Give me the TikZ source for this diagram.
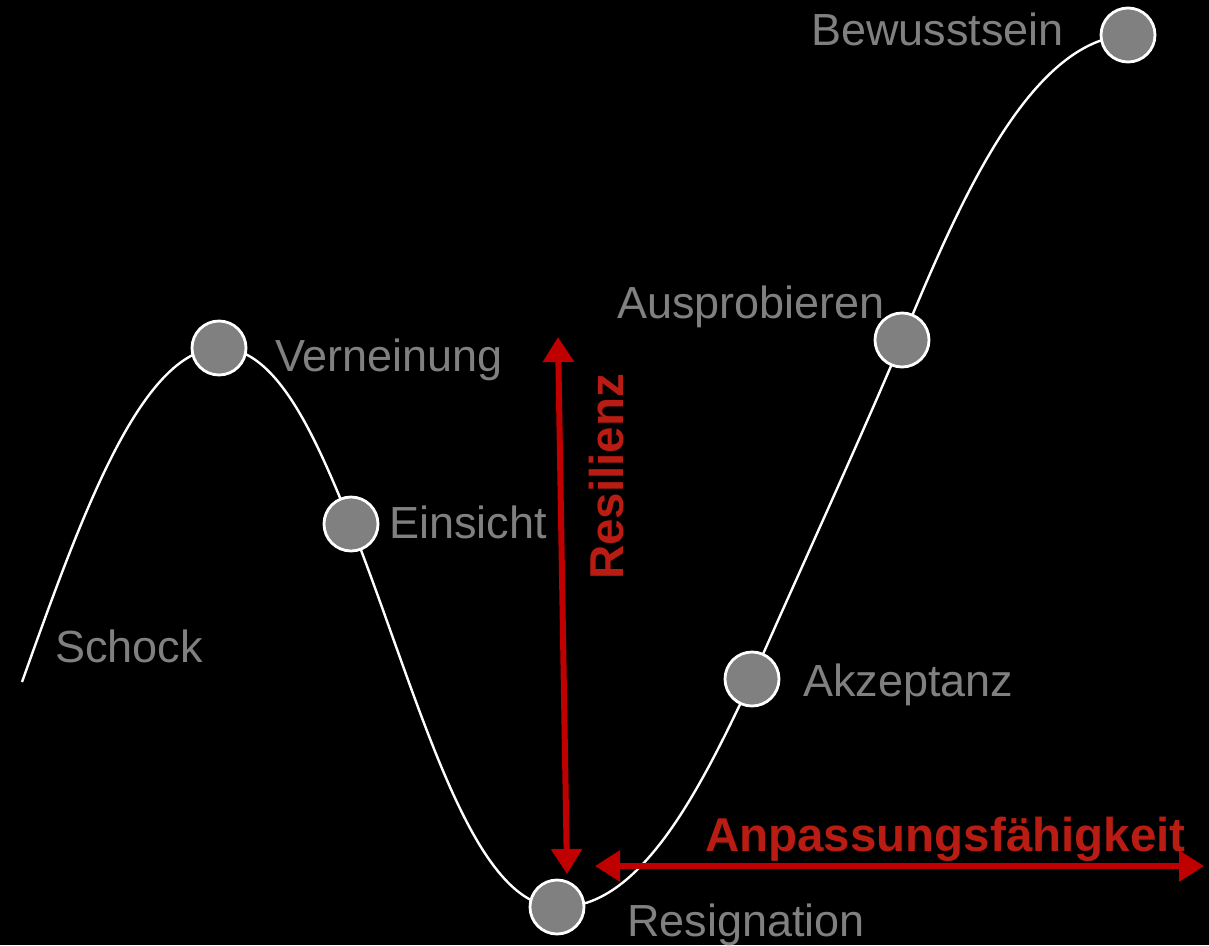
\documentclass[tikz,border=0pt]{standalone}
\usepackage{fontspec}
\setmainfont{Liberation Sans}
\usetikzlibrary{arrows.meta}
\definecolor{lblgray}{HTML}{808080}
\definecolor{arrred}{HTML}{C00000}
\definecolor{txtred}{HTML}{B81C12}
\tikzset{
  stage/.style={circle, draw=white, line width=2.8pt, fill=lblgray, minimum size=54pt, inner sep=0pt},
  lbl/.style={anchor=base west, text=lblgray, font=\fontsize{45}{50}\selectfont, inner sep=0pt},
  redlbl/.style={anchor=base west, text=txtred, font=\fontsize{47.5}{52}\selectfont\bfseries, inner sep=0pt},
  curve/.style={draw=white, line width=2.4pt},
  redarrow/.style={draw=arrred, line width=6pt, {Triangle[length=25pt,width=30pt]}-{Triangle[length=25pt,width=30pt]}}
}
\begin{document}
\begin{tikzpicture}[x=1pt,y=-1pt]
\useasboundingbox[fill=black] (0,0) rectangle (1209,945);
% curve
\coordinate (start) at (22,682);
\coordinate (pV) at (219,348);
\coordinate (pE) at (351,524);
\coordinate (pR) at (557,907);
\coordinate (pA) at (752,679);
\coordinate (pP) at (902,340);
\coordinate (pB) at (1128,35);
\draw[curve] (start) .. controls (80,520) and (140,350) .. (pV)
  .. controls (280,346) and (320,450) .. (pE)
  .. controls (420,700) and (470,905) .. (pR)
  .. controls (640,910) and (700,790) .. (pA)
  .. controls (800,570) and (860,440) .. (pP)
  .. controls (960,200) and (1030,40) .. (pB);
% stages
\node[stage] (V) at (pV) {};
\node[stage] (E) at (pE) {};
\node[stage] (R) at (pR) {};
\node[stage] (A) at (pA) {};
\node[stage] (P) at (pP) {};
\node[stage] (B) at (pB) {};
% labels
\node[lbl] (tS) at (55,662) {Schock};
\node[lbl] (tV) at (275,371) {Verneinung};
\node[lbl] (tE) at (389,538) {Einsicht};
\node[lbl] (tR) at (627,936) {Resignation};
\node[lbl] (tA) at (803,696) {Akzeptanz};
\node[lbl] (tP) at (617,318) {Ausprobieren};
\node[lbl] (tB) at (811,45) {Bewusstsein};
% red arrows
\coordinate (resTop) at (558,337);
\coordinate (resBot) at (567,874);
\draw[redarrow] (resBot) -- (resTop);
\coordinate (anpL) at (595,866);
\coordinate (anpR) at (1204,866);
\draw[redarrow] (anpL) -- (anpR);
\node[redlbl, rotate=90] (tRes) at (623,580) {Resilienz};
\node[redlbl] (tAnp) at (705,851) {Anpassungsfähigkeit};
\end{tikzpicture}
\end{document}
